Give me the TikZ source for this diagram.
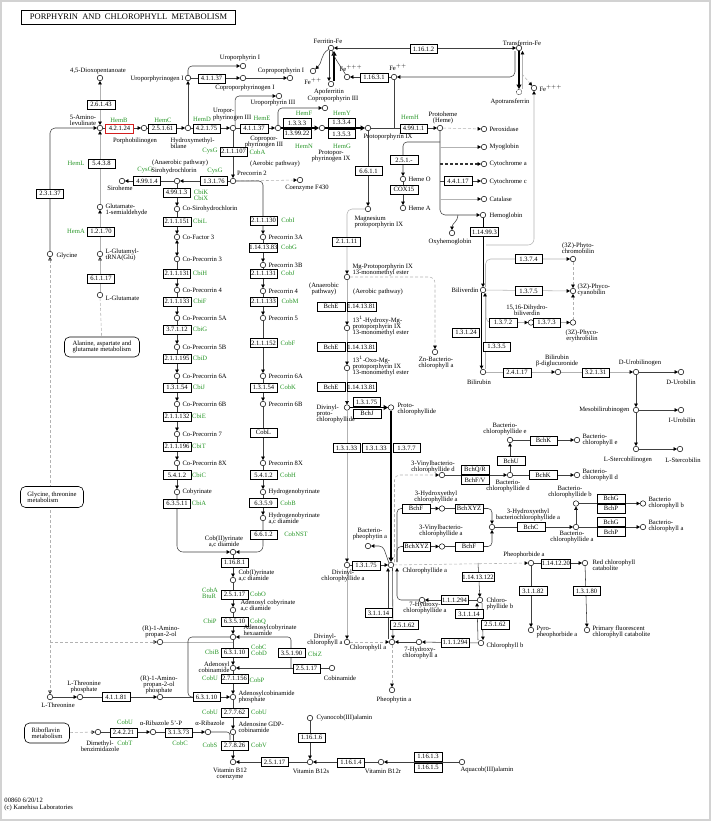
\documentclass[tikz,border=0pt]{standalone}
\usepackage{fontspec}
\setmainfont{Liberation Serif}
\usetikzlibrary{arrows.meta}
\definecolor{genegreen}{RGB}{40,150,40}
\definecolor{hitred}{RGB}{210,30,30}
\newcommand{\sm}{\fontsize{6.6}{6.3}\selectfont}
\pgfdeclarelayer{bg}
\pgfsetlayers{bg,main}
\begin{document}
\begin{tikzpicture}[x=1pt,y=-1pt,line cap=round,
  ec/.style={draw,fill=white,font=\sm,minimum width=27.5pt,minimum height=9pt,inner sep=0.4pt,line width=0.5pt},
  ecb/.style={ec,line width=0.9pt},
  ecr/.style={ec,draw=hitred,line width=0.9pt},
  cpd/.style={circle,draw,fill=white,inner sep=0pt,minimum size=5.5pt,line width=0.5pt},
  lbl/.style={font=\sm,inner sep=0.3pt,align=center},
  lw/.style={lbl,anchor=west,align=left},
  le/.style={lbl,anchor=east,align=right},
  gn/.style={font=\sm,text=genegreen,inner sep=0.3pt,align=left},
  mapbox/.style={draw,fill=white,rounded corners=5pt,font=\sm,align=left,inner sep=2.5pt,line width=0.6pt},
  ln/.style={draw=black!75,line width=0.55pt},
  lg/.style={draw=gray!60,line width=0.55pt},
  lb/.style={draw=black,line width=1.8pt},
  dsh/.style={dash pattern=on 3pt off 2pt},
  arr/.style={-{Triangle[length=3.4pt,width=3.6pt,color=black]}},
  rra/.style={{Triangle[length=3.4pt,width=3.6pt,color=black]}-},
  barr/.style={{Triangle[length=3.4pt,width=3.6pt,color=black]}-{Triangle[length=3.4pt,width=3.6pt,color=black]}},
  larr/.style={-{Triangle[length=4.5pt,width=5pt,color=black]}},
  oarr/.style={-{Triangle[open,length=3.4pt,width=3.6pt,color=black]}},
  obarr/.style={{Triangle[open,length=3.4pt,width=3.6pt,color=black]}-{Triangle[open,length=3.4pt,width=3.6pt,color=black]}},
]
\useasboundingbox (0,0) rectangle (712,822);
\draw[gray!35,line width=1.5pt] (1,1) rectangle (710,820);
\node[draw,line width=0.9pt,font=\fontsize{8.5}{9}\selectfont,minimum width=214pt,minimum height=14pt,inner sep=1pt] (title) at (128.5,17) {PORPHYRIN\ \ AND\ \ CHLOROPHYLL\ \ METABOLISM};

% ---- compounds: heme trunk
\node[cpd] (dioxo) at (100,78) {};
\node[cpd] (ala) at (100,128) {};
\node[cpd] (pbg) at (144,128) {};
\node[cpd] (hmb) at (188,128) {};
\node[cpd] (urogI) at (188,78) {};
\node[cpd] (uroI) at (243,66) {};
\node[cpd] (coprogI) at (243,78) {};
\node[cpd] (coproI) at (290,78) {};
\node[cpd] (urogIII) at (233,128) {};
\node[cpd] (uroIII) at (279,96) {};
\node[cpd] (coprogIII) at (278,128) {};
\node[cpd] (coproIII) at (325,108) {};
\node[cpd] (protogen) at (322,128) {};
\node[cpd] (protoIX) at (368,128) {};
\node[cpd] (heme) at (440,128) {};
% iron
\node[cpd] (ferritin) at (331,48) {};
\node[cpd] (apoferr) at (331,84) {};
\node[cpd] (fe2a) at (313,71) {};
\node[cpd] (fe3a) at (347,77) {};
\node[cpd] (fe2b) at (394,77) {};
\node[cpd] (transf) at (519,48) {};
\node[cpd,densely dotted] (apotransf) at (519,92) {};
\node[cpd] (fe3b) at (534,88) {};
% heme proteins
\node[cpd] (perox) at (484,129) {};
\node[cpd] (myo) at (484,147) {};
\node[cpd] (cyta) at (484,164) {};
\node[cpd] (cytc) at (484,181) {};
\node[cpd] (catal) at (484,199) {};
\node[cpd] (hemoglob) at (483,215) {};
\node[cpd] (oxyhb) at (452,233) {};
\node[cpd] (hemeO) at (403,179) {};
\node[cpd] (hemeA) at (403,208) {};
% left
\node[cpd] (glusa) at (100,207) {};
\node[cpd] (glutrna) at (100,254) {};
\node[cpd] (glu) at (100,295) {};
\node[cpd] (gly) at (50,254) {};
\node[cpd] (thr) at (50,697) {};
\node[cpd] (thrp) at (80,697) {};
\node[cpd] (amp) at (160,642) {};
\node[cpd] (ampp) at (160,697) {};
\node[cpd] (dmb) at (98,732) {};
\node[cpd] (arp) at (153,732) {};
\node[cpd] (ar) at (208,732) {};
% siroheme / precorrin
\node[cpd] (siroheme) at (122,181) {};
\node[cpd] (sirohc) at (177,181) {};
\node[cpd] (precorrin2) at (233,181) {};
\node[cpd] (f430) at (300,180) {};
\node[cpd] (cosirohc) at (177,209) {};
\node[cpd] (cof3) at (177,237) {};
\node[cpd] (cop3) at (177,259) {};
\node[cpd] (cop4) at (177,290) {};
\node[cpd] (cop5a) at (177,318) {};
\node[cpd] (cop5b) at (177,347) {};
\node[cpd] (cop6a) at (177,376) {};
\node[cpd] (cop6b) at (177,404) {};
\node[cpd] (cop7) at (177,434) {};
\node[cpd] (cop8) at (177,463) {};
\node[cpd] (cobyrinate) at (177,492) {};
\node[cpd] (p3a) at (263,237) {};
\node[cpd] (p3b) at (263,265) {};
\node[cpd] (p4) at (263,291) {};
\node[cpd] (p5) at (263,318) {};
\node[cpd] (p6a) at (263,376) {};
\node[cpd] (p6b) at (263,404) {};
\node[cpd] (p8) at (263,463) {};
\node[cpd] (hbyr) at (263,492) {};
\node[cpd] (hbyrd) at (263,518) {};
% B12
\node[cpd] (cob2) at (233,552) {};
\node[cpd] (cob1) at (233,580) {};
\node[cpd] (adocbd) at (233,610) {};
\node[cpd] (adocbh) at (233,637) {};
\node[cpd] (adocbi) at (233,668) {};
\node[cpd] (adocbip) at (233,697) {};
\node[cpd] (adogdp) at (233,732) {};
\node[cpd] (b12co) at (233,762) {};
\node[cpd] (cobinamide) at (332,668) {};
\node[cpd] (b12s) at (310,762) {};
\node[cpd] (b12r) at (381,762) {};
\node[cpd] (aquacob) at (462,762) {};
\node[cpd] (cyanocob) at (310,718) {};
% chlorophyll
\node[cpd] (mgproto) at (368,209) {};
\node[cpd] (mgprotome) at (347,277) {};
\node[cpd] (hydroxy) at (347,328) {};
\node[cpd] (oxo) at (347,368) {};
\node[cpd] (zbchl) at (435,352) {};
\node[cpd] (dvpchlide) at (347,407.5) {};
\node[cpd] (pchlide) at (391,407.5) {};
\node[cpd] (dvchlide) at (347,565) {};
\node[cpd] (chlidea) at (391,565) {};
\node[cpd] (bpheo) at (368,546) {};
\node[cpd] (vbchlided) at (442,475) {};
\node[cpd] (bchlided) at (510,475) {};
\node[cpd] (bchlidee) at (510,440) {};
\node[cpd] (bchle) at (577,440) {};
\node[cpd] (bchld) at (577,475) {};
\node[cpd] (hechlide) at (442,508.5) {};
\node[cpd] (vbchlidea) at (442,546.5) {};
\node[cpd] (hebchlide) at (492,527) {};
\node[cpd] (bchlidea) at (576,527) {};
\node[cpd] (bchlideb) at (576,503.5) {};
\node[cpd] (bchlb) at (643,503.5) {};
\node[cpd] (bchla) at (643,527) {};
\node[cpd] (pheide) at (531,563) {};
\node[cpd] (rcc) at (585,563) {};
\node[cpd] (pyro) at (531,630) {};
\node[cpd] (fcc) at (587,630) {};
\node[cpd] (chlideb) at (480,600) {};
\node[cpd] (hchlide) at (422,600) {};
\node[cpd] (chla) at (392,642) {};
\node[cpd] (chlb) at (481,643) {};
\node[cpd] (hchla) at (419,642) {};
\node[cpd] (dvchla) at (347,642) {};
\node[cpd] (pheo) at (392,690) {};
% bilins
\node[cpd] (biliverdin) at (483,290) {};
\node[cpd] (phytochromo) at (573,259) {};
\node[cpd] (phycocyano) at (573,291) {};
\node[cpd] (dhbv) at (531,322.5) {};
\node[cpd] (phycoery) at (573,322.5) {};
\node[cpd] (bilirubin) at (483,372) {};
\node[cpd] (bdg) at (558,372) {};
\node[cpd] (durobgen) at (636,372) {};
\node[cpd] (durobilin) at (681,372) {};
\node[cpd] (meso) at (636,410) {};
\node[cpd] (iurobilin) at (681,410) {};
\node[cpd] (lsterco) at (636,449) {};
\node[cpd] (lsbilin) at (680,449) {};

% ---- junction points
\coordinate (fe2bj) at (394,128);
\coordinate (tfj) at (522,74);
\coordinate (hbj) at (458,215);
\coordinate (hbj2) at (486,245);
\coordinate (hoj) at (440,142);
\coordinate (myoj) at (440,147);
\coordinate (cytaj) at (440,164);
\coordinate (cytcj) at (440,181);
\coordinate (catj) at (440,199);
\coordinate (thrj) at (50,642);
\coordinate (ampj) at (233,642);
\coordinate (arj) at (230,740);
\coordinate (cbzj) at (291,668);
\coordinate (caoj) at (478,563);

% ---- enzymes
\node[ec] (e26143) at (101,104.5) {2.6.1.43};
\node[ecr] (e42124) at (119.5,128.5) {4.2.1.24};
\node[ecb] (e25161) at (162.5,128.5) {2.5.1.61};
\node[ec] (e42175) at (206.5,128.5) {4.2.1.75};
\node[ec] (e41137a) at (254,128.5) {4.1.1.37};
\node[ec] (e41137b) at (211.5,78.5) {4.1.1.37};
\node[ec] (e1333) at (297,123) {1.3.3.3};
\node[ec] (e139922) at (297,133.5) {1.3.99.22};
\node[ec] (e1334) at (341.5,122.5) {1.3.3.4};
\node[ec] (e1353) at (341.5,134) {1.3.5.3};
\node[ec] (e49911) at (413.5,128.5) {4.99.1.1};
\node[ec] (e5438) at (101.5,163.5) {5.4.3.8};
\node[ecb] (e23137) at (50,193.5) {2.3.1.37};
\node[ecb] (e12170) at (101,231.5) {1.2.1.70};
\node[ecb] (e61117) at (101,278.5) {6.1.1.17};
\node[ec] (e211107) at (233.5,151.5) {2.1.1.107};
\node[ecb] (e49914) at (147,181) {4.99.1.4};
\node[ecb] (e13176) at (214,181) {1.3.1.76};
\node[ec] (e49913) at (176.5,192.5) {4.99.1.3};
\node[ec] (e211151) at (177,221.5) {2.1.1.151};
\node[ecb] (e211131a) at (177,273.5) {2.1.1.131};
\node[ec] (e211133a) at (177,301.5) {2.1.1.133};
\node[ec] (e37112) at (177,329.5) {3.7.1.12};
\node[ec] (e211195) at (177,358.5) {2.1.1.195};
\node[ec] (e13154a) at (177,387.5) {1.3.1.54};
\node[ec] (e211132) at (177,416.5) {2.1.1.132};
\node[ec] (e211196) at (177,446.5) {2.1.1.196};
\node[ec] (e5412a) at (177,475) {5.4.1.2};
\node[ecb] (e63511) at (177,503.5) {6.3.5.11};
\node[ec] (e211130) at (263.5,220.5) {2.1.1.130};
\node[ecb] (e1141383) at (263.5,247.5) {1.14.13.83};
\node[ec] (e211131b) at (263.5,273.5) {2.1.1.131};
\node[ec] (e211133b) at (263.5,301.5) {2.1.1.133};
\node[ec] (e211152) at (263.5,343) {2.1.1.152};
\node[ec] (e13154b) at (263.5,387.5) {1.3.1.54};
\node[ec] (ecobl) at (263.5,432.5) {CobL};
\node[ec] (e5412b) at (263.5,475) {5.4.1.2};
\node[ecb] (e6359) at (263.5,503) {6.3.5.9};
\node[ec] (e6612) at (263.5,534.5) {6.6.1.2};
\node[ec] (e11681) at (234.5,562.5) {1.16.8.1};
\node[ec] (e25117a) at (234.5,594.5) {2.5.1.17};
\node[ec] (e63510) at (234.5,621.5) {6.3.5.10};
\node[ec] (e63110a) at (234.5,652.5) {6.3.1.10};
\node[ec] (e271156) at (234.5,678.5) {2.7.1.156};
\node[ec] (e27762) at (234.5,712.5) {2.7.7.62};
\node[ec] (e27826) at (234.5,745.5) {2.7.8.26};
\node[ec] (e63110b) at (206.5,697) {6.3.1.10};
\node[ec] (e41181) at (116,697) {4.1.1.81};
\node[ec] (e24221) at (123.5,732.5) {2.4.2.21};
\node[ec] (e31373) at (178.5,732.5) {3.1.3.73};
\node[ec] (e35190) at (291.5,653) {3.5.1.90};
\node[ec] (e25117b) at (306.5,668.5) {2.5.1.17};
\node[ec] (e25117c) at (274.5,762) {2.5.1.17};
\node[ecb] (e11614) at (351,762.5) {1.16.1.4};
\node[ec] (e11613) at (428,756.5) {1.16.1.3};
\node[ec] (e11615) at (428,767.5) {1.16.1.5};
\node[ec] (e11616) at (311.5,737.5) {1.16.1.6};
\node[ec] (e2515) at (404,160) {2.5.1.-};
\node[ec] (ecox15) at (404,189.5) {COX15};
\node[ec] (e44117) at (458,181) {4.4.1.17};
\node[ecb] (e114993) at (484.5,232) {1.14.99.3};
\node[ec] (e11631) at (374,77.5) {1.16.3.1};
\node[ec] (e11612) at (423.5,49) {1.16.1.2};
\node[ec] (e6611) at (368.5,171) {6.6.1.1};
\node[ecb] (e21111) at (346.5,241.5) {2.1.1.11};
\node[ec] (ebche1) at (331,306.5) {BchE};
\node[ec] (e1141381a) at (361.5,306.5) {1.14.13.81};
\node[ec] (ebche2) at (331,347) {BchE};
\node[ec] (e1141381b) at (361.5,347) {1.14.13.81};
\node[ec] (ebche3) at (331,387) {BchE};
\node[ec] (e1141381c) at (361.5,387) {1.14.13.81};
\node[ec] (e13175a) at (366.5,402) {1.3.1.75};
\node[ec] (ebchj) at (367,413.5) {BchJ};
\node[ec] (e13133a) at (346.5,448) {1.3.1.33};
\node[ec] (e13133b) at (376,448) {1.3.1.33};
\node[ec] (e1377) at (406.5,448) {1.3.7.7};
\node[ec] (e13175b) at (366,565.5) {1.3.1.75};
\node[ec] (ebchf1) at (416,508.5) {BchF};
\node[ec] (ebchxyz1) at (469,508.5) {BchXYZ};
\node[ec] (ebchxyz2) at (416.5,546.5) {BchXYZ};
\node[ec] (ebchf2) at (469,546.5) {BchF};
\node[ec] (ebchqr) at (475,470) {BchQ/R};
\node[ec] (ebchfv) at (475,480) {BchF/V};
\node[ec] (ebchu) at (511,461) {BchU};
\node[ec] (ebchk1) at (543.5,440.5) {BchK};
\node[ec] (ebchk2) at (543,475) {BchK};
\node[ec] (ebchc) at (531,527) {BchC};
\node[ec] (ebchg1) at (611,498.5) {BchG};
\node[ec] (ebchp1) at (611,508.5) {BchP};
\node[ec] (ebchg2) at (611,522) {BchG};
\node[ec] (ebchp2) at (611,532) {BchP};
\node[ec] (e1141220) at (556,563.5) {1.14.12.20};
\node[ec] (e31182) at (533,591) {3.1.1.82};
\node[ec] (e13180) at (586.5,591) {1.3.1.80};
\node[ec] (e11413122) at (478,577) {1.14.13.122};
\node[ec] (e111294a) at (454.5,600) {1.1.1.294};
\node[ec] (e31114a) at (378.5,613) {3.1.1.14};
\node[ec] (e25162a) at (404,625) {2.5.1.62};
\node[ec] (e31114b) at (469,614) {3.1.1.14};
\node[ec] (e25162b) at (495,624.5) {2.5.1.62};
\node[ec] (e111294b) at (455,642.5) {1.1.1.294};
\node[ec] (e1374) at (528.5,259) {1.3.7.4};
\node[ec] (e1375) at (528.5,291) {1.3.7.5};
\node[ec] (e1372) at (503,322.5) {1.3.7.2};
\node[ec] (e1373) at (546.5,322.5) {1.3.7.3};
\node[ecb] (e13124) at (466,332.5) {1.3.1.24};
\node[ec] (e1335) at (496.5,346.5) {1.3.3.5};
\node[ec] (e24117) at (517,372.5) {2.4.1.17};
\node[ec] (e32131) at (595.5,372.5) {3.2.1.31};

% ---- gene names
\node[gn] (gHemB) at (119,120) {HemB};
\node[gn] (gHemC) at (163,120) {HemC};
\node[gn] (gHemD) at (202,119) {HemD};
\node[gn] (gHemE) at (262,118) {HemE};
\node[gn] (gHemF) at (304,113) {HemF};
\node[gn] (gHemN) at (304,146) {HemN};
\node[gn] (gHemY) at (342,113) {HemY};
\node[gn] (gHemG) at (342,146) {HemG};
\node[gn] (gHemH) at (410,117) {HemH};
\node[gn] (gHemL) at (76,163) {HemL};
\node[gn] (gHemA) at (76,231) {HemA};
\node[gn] (gCysGa) at (145,170) {CysG};
\node[gn] (gCysGb) at (215,171) {CysG};
\node[gn] (gCysGc) at (210,151) {CysG};
\node[gn,anchor=west] (gCobAa) at (249,152) {CobA};
\node[gn] (gCbiKX) at (201,195) {CbiK\\CbiX};
\node[gn] (gCbiL) at (200,221.5) {CbiL};
\node[gn] (gCbiH) at (200,273.5) {CbiH};
\node[gn] (gCbiF) at (200,301.5) {CbiF};
\node[gn] (gCbiG) at (200,329.5) {CbiG};
\node[gn] (gCbiD) at (200,358.5) {CbiD};
\node[gn] (gCbiJ) at (199,387.5) {CbiJ};
\node[gn] (gCbiE) at (199,416.5) {CbiE};
\node[gn] (gCbiT) at (199,446.5) {CbiT};
\node[gn] (gCbiC) at (199,475) {CbiC};
\node[gn] (gCbiA) at (199,503.5) {CbiA};
\node[gn] (gCobI) at (288,220.5) {CobI};
\node[gn] (gCobG) at (289,247.5) {CobG};
\node[gn] (gCobJ) at (288,273.5) {CobJ};
\node[gn] (gCobM) at (290,301.5) {CobM};
\node[gn] (gCobF) at (288,343) {CobF};
\node[gn] (gCobK) at (288,387.5) {CobK};
\node[gn] (gCobH) at (288,475) {CobH};
\node[gn] (gCobB) at (288,503) {CobB};
\node[gn] (gCobNST) at (296,534.5) {CobNST};
\node[gn] (gCobABtuR) at (210,593) {CobA\\BtuR};
\node[gn] (gCobO) at (258,594.5) {CobO};
\node[gn] (gCbiP) at (210,621.5) {CbiP};
\node[gn] (gCobQ) at (258,621.5) {CobQ};
\node[gn] (gCbiB) at (212,652.5) {CbiB};
\node[gn] (gCobCD) at (259,650) {CobC\\CobD};
\node[gn] (gCbiZ) at (315,654) {CbiZ};
\node[gn] (gCobUa) at (210,678.5) {CobU};
\node[gn] (gCobP) at (257,680) {CobP};
\node[gn] (gCobUb) at (210,712.5) {CobU};
\node[gn] (gCobUc) at (259,712.5) {CobU};
\node[gn] (gCobS) at (210,745.5) {CobS};
\node[gn] (gCobV) at (259,745.5) {CobV};
\node[gn] (gCobUd) at (125,722) {CobU};
\node[gn] (gCobT) at (125,743) {CobT};
\node[gn] (gCobC) at (180,743) {CobC};

% ---- compound names
\node[lbl] (tdioxo) at (98,71) {4,5-Dioxopentanoate};
\node[lbl] (tala) at (83,120) {5-Amino-\\levulinate};
\node[lbl] (tpbg) at (135,141) {Porphobilinogen};
\node[lw,anchor=north west] (thmb) at (170,137) {Hydroxymethyl-\\bilane};
\node[le] (turogI) at (184,79) {Uroporphyrinogen I};
\node[lbl] (turoI) at (240,58) {Uroporphyrin I};
\node[lbl] (tcoprogI) at (245,88) {Coproporphyrinogen I};
\node[lbl] (tcoproI) at (281,71) {Coproporphyrin I};
\node[lbl] (tfe2a) at (313,81) {Fe$^{++}$};
\node[lbl] (tferr) at (328,41) {Ferritin-Fe};
\node[lbl] (tapof) at (329,92) {Apoferritin};
\node[lbl] (tcoproIII) at (333,99) {Coproporphyrin III};
\node[lbl] (turoIII) at (273,103) {Uroporphyrin III};
\node[lbl] (tfe3a) at (351,68) {Fe$^{+++}$};
\node[lbl] (tfe2b) at (398,67) {Fe$^{++}$};
\node[lbl] (ttransf) at (522,43) {Transferrin-Fe};
\node[lbl] (tapot) at (510,102) {Apotransferrin};
\node[lw] (tfe3b) at (539,88) {Fe$^{+++}$};
\node[lw] (turogIII) at (212.5,114.5) {Uropor-\\phyrinogen III};
\node[lbl] (tcoprogIII) at (264,142) {Copropor-\\phyrinogen III};
\node[lbl] (tprotogen) at (331,156) {Protopor-\\phyrinogen IX};
\node[lbl] (tprotoIX) at (388,137) {Protoporphyrin IX};
\node[lbl] (theme) at (443,118) {Protoheme\\(Heme)};
\node[lw] (tperox) at (489,129) {Peroxidase};
\node[lw] (tmyo) at (489,147) {Myoglobin};
\node[lw] (tcyta) at (489,164) {Cytochrome a};
\node[lw] (tcytc) at (489,182) {Cytochrome c};
\node[lw] (tcatal) at (489,199) {Catalase};
\node[lw] (themog) at (489,216) {Hemoglobin};
\node[lbl] (toxyhb) at (450,242) {Oxyhemoglobin};
\node[lw] (themeO) at (408,179) {Heme O};
\node[lw] (themeA) at (408,208) {Heme A};
\node[lbl] (tsiroheme) at (120,188) {Siroheme};
\node[lbl] (tsirohc) at (174,171) {Sirohydrochlorin};
\node[lbl] (tprec2) at (252,173) {Precorrin 2};
\node[lbl] (tf430) at (307,188) {Coenzyme F430};
\node[lw] (tcosirohc) at (182,209) {Co-Sirohydrochlorin};
\node[lw] (tcof3) at (182,237) {Co-Factor 3};
\node[lw] (tcop3) at (182,259) {Co-Precorrin 3};
\node[lw] (tcop4) at (182,290) {Co-Precorrin 4};
\node[lw] (tcop5a) at (182,318) {Co-Precorrin 5A};
\node[lw] (tcop5b) at (182,347) {Co-Precorrin 5B};
\node[lw] (tcop6a) at (182,376) {Co-Precorrin 6A};
\node[lw] (tcop6b) at (182,404) {Co-Precorrin 6B};
\node[lw] (tcop7) at (182,434) {Co-Precorrin 7};
\node[lw] (tcop8) at (182,463) {Co-Precorrin 8X};
\node[lw] (tcobyr) at (182,492) {Cobyrinate};
\node[lw] (tp3a) at (268,237) {Precorrin 3A};
\node[lw] (tp3b) at (268,265) {Precorrin 3B};
\node[lw] (tp4) at (268,291) {Precorrin 4};
\node[lw] (tp5) at (268,318) {Precorrin 5};
\node[lw] (tp6a) at (268,376) {Precorrin 6A};
\node[lw] (tp6b) at (268,404) {Precorrin 6B};
\node[lw] (tp8) at (268,463) {Precorrin 8X};
\node[lw] (thbyr) at (268,492) {Hydrogenobyrinate};
\node[lw] (thbyrd) at (268,519) {Hydrogenobyrinate\\a,c diamide};
\node[lbl] (tcob2) at (224,542) {Cob(II)yrinate\\a,c diamide};
\node[lw] (tcob1) at (238,576) {Cob(I)yrinate\\a,c diamide};
\node[lw] (tadocbd) at (240,606) {Adenosyl cobyrinate\\a,c diamide};
\node[lw] (tadocbh) at (243,630) {Adenosylcobyrinate\\hexaamide};
\node[le] (tadocbi) at (230,667) {Adenosyl\\cobinamide};
\node[lbl] (tcobinamide) at (340,678) {Cobinamide};
\node[lw] (tadocbip) at (238,697) {Adenosylcobinamide\\phosphate};
\node[lw] (tadogdp) at (238,727) {Adenosine GDP-\\cobinamide};
\node[lbl] (tb12co) at (230,774) {Vitamin B12\\coenzyme};
\node[lbl] (tb12s) at (311,771) {Vitamin B12s};
\node[lbl] (tb12r) at (383,771) {Vitamin B12r};
\node[lbl] (taquacob) at (487,770) {Aquacob(III)alamin};
\node[lw] (tcyanocob) at (316,718) {Cyanocob(III)alamin};
\node[lbl] (tamp) at (161,632) {(R)-1-Amino-\\propan-2-ol};
\node[lbl] (tthrp) at (84,687) {L-Threonine\\phosphate};
\node[lbl] (tampp) at (159,685) {(R)-1-Amino-\\propan-2-ol\\phosphate};
\node[lbl] (tthr) at (58,705) {L-Threonine};
\node[lw] (tgly) at (56,256) {Glycine};
\node[lw] (tglutrna) at (105,255) {L-Glutamyl-\\tRNA(Glu)};
\node[lw] (tglu) at (105,298) {L-Glutamate};
\node[lw] (tglusa) at (105,210) {Glutamate-\\1-semialdehyde};
\node[lbl] (tdmb) at (100,746) {Dimethyl-\\benzimidazole};
\node[lbl] (tarp) at (161,723) {α-Ribazole 5'-P};
\node[lbl] (tar) at (210,723) {α-Ribazole};
\node[lw] (tmgproto) at (354,222) {Magnesium\\protoporphyrin IX};
\node[lw] (tmgprotome) at (352,270) {Mg-Protoporphyrin IX\\13-monomethyl ester};
\node[lw] (thydroxy) at (352,326) {13$^1$-Hydroxy-Mg-\\protoporphyrin IX\\13-monomethyl ester};
\node[lw] (toxo) at (352,366) {13$^1$-Oxo-Mg-\\protoporphyrin IX\\13-monomethyl ester};
\node[lbl] (tzbchl) at (436,363) {Zn-Bacterio-\\chlorophyll a};
\node[lw] (tdvpchlide) at (316,414) {Divinyl-\\proto-\\chlorophyllide};
\node[lw] (tpchlide) at (397,409) {Proto-\\chlorophyllide};
\node[lbl] (tdvchlide) at (343,576) {Divinyl-\\chlorophyllide a};
\node[lw] (tchlidea) at (402,571) {Chlorophyllide a};
\node[lbl] (tbpheo) at (370,534) {Bacterio-\\pheophytin a};
\node[lbl] (tvbchlided) at (433,467) {3-Vinylbacterio-\\chlorophyllide d};
\node[lbl] (thechlide) at (436,497) {3-Hydroxyethyl\\chlorophyllide a};
\node[lbl] (tvbchlidea) at (441,531) {3-Vinylbacterio-\\chlorophyllide a};
\node[lbl] (thebchlide) at (528,515) {3-Hydroxyethyl\\bacteriochlorophyllide a};
\node[lbl] (tbchlidee) at (505,429) {Bacterio-\\chlorophyllide e};
\node[lw] (tbchle) at (582,440) {Bacterio-\\chlorophyll e};
\node[lbl] (tbchlided) at (508,486) {Bacterio-\\chlorophyllide d};
\node[lw] (tbchld) at (582,475) {Bacterio-\\chlorophyll d};
\node[lbl] (tbchlideb) at (570,492) {Bacterio-\\chlorophyllide b};
\node[lbl] (tbchlidea) at (572,537) {Bacterio-\\chlorophyllide a};
\node[lw] (tbchlb) at (648,503) {Bacterio\\chlorophyll b};
\node[lw] (tbchla) at (648,526) {Bacterio-\\chlorophyll a};
\node[lbl] (tpheide) at (524,555) {Pheophorbide a};
\node[lw] (trcc) at (592,565) {Red chlorophyll\\catabolite};
\node[lw] (tpyro) at (536,632) {Pyro-\\pheophorbide a};
\node[lw] (tfcc) at (592,632) {Primary fluorescent\\chlorophyll catabolite};
\node[lw] (tchlideb) at (486,604) {Chloro-\\phyllide b};
\node[lbl] (thchlide) at (425,608) {7-Hydroxy-\\chlorophyllide a};
\node[lbl] (tchla) at (368,648) {Chlorophyll a};
\node[lbl] (thchla) at (420,653) {7-Hydroxy-\\chlorophyll a};
\node[lw] (tchlb) at (486,646) {Chlorophyll b};
\node[lbl] (tdvchla) at (325,640) {Divinyl-\\chlorophyll a};
\node[lbl] (tpheo) at (394,700) {Pheophytin a};
\node[le] (tbiliverdin) at (479,290) {Biliverdin};
\node[lbl] (tphytochromo) at (578,248) {(3Z)-Phyto-\\chromobilin};
\node[lw] (tphycocyano) at (577,290) {(3Z)-Phyco-\\cyanobilin};
\node[lbl] (tdhbv) at (527,310) {15,16-Dihydro-\\biliverdin};
\node[lbl] (tphycoery) at (582,336) {(3Z)-Phyco-\\erythrobilin};
\node[lbl] (tbilirubin) at (479,382) {Bilirubin};
\node[lbl] (tbdg) at (557,361) {Bilirubin\\β-diglucuronide};
\node[lbl] (tdurobgen) at (640,363) {D-Urobilinogen};
\node[lbl] (tdurobilin) at (681,382) {D-Urobilin};
\node[le] (tmeso) at (630,410) {Mesobilirubinogen};
\node[lbl] (tiurobilin) at (682,420) {I-Urobilin};
\node[lbl] (tlsterco) at (628,460) {L-Stercobilinogen};
\node[lbl] (tlsbilin) at (683,460) {L-Stercobilin};
% notes and maps
\node[lbl] (nanae1) at (180,163) {(Anaerobic pathway)};
\node[lbl] (naer1) at (275,164) {(Aerobic pathway)};
\node[lbl] (nanae2) at (324,289) {(Anaerobic\\pathway)};
\node[lbl] (naer2) at (378,292) {(Aerobic pathway)};
\node[mapbox,minimum width=75pt,minimum height=20pt] (alamap) at (102,347) {Alanine, aspartate and\\glutamate metabolism};
\node[mapbox,minimum width=63pt,minimum height=21pt] (glymap) at (52,497) {Glycine, threonine\\metabolism};
\node[mapbox,minimum width=45pt,minimum height=20pt] (ribomap) at (47,733) {Riboflavin\\metabolism};
\node[lw] (fdate) at (4,800) {00860 6/20/12};
\node[lw] (fcopy) at (4,808) {(c) Kanehisa Laboratories};

% ---- connectors
\begin{pgfonlayer}{bg}
\draw[ln,arr] (ala) -- (pbg);
\draw[ln,arr] (pbg) -- (hmb);
\draw[ln,arr] (hmb) -- (urogIII);
\draw[ln,arr] (urogIII) -- (coprogIII);
\draw[lb,larr] (coprogIII) -- (protogen);
\draw[lb,larr] (protogen) -- (protoIX);
\draw[ln,arr] (protoIX) -- (heme);
\draw[lg,barr] (dioxo) -- (ala);
\draw[lg,arr] (glusa) -- (ala);
\draw[lg,arr] (glutrna) -- (glusa);
\draw[lg,oarr] (glu) -- (glutrna);
\draw[lg,dsh] (glu) -- (alamap);
\draw[ln,arr,rounded corners=5pt] (gly) |- (ala);
\draw[lg,dsh,obarr] (gly) -- (thr);
\draw[ln,arr] (hmb) -- (urogI);
\draw[ln,arr,rounded corners=4pt] (urogI) |- (uroI);
\draw[ln,arr] (urogI) -- (coprogI);
\draw[ln,arr] (coprogI) -- (coproI);
\draw[ln,arr,rounded corners=4pt] (urogIII.north east) |- (uroIII);
\draw[ln,arr,rounded corners=4pt] (coprogIII) |- (coproIII);
% iron
\draw[ln,arr] ([xshift=-2pt]ferritin.south) -- ([xshift=-2pt]apoferr.north);
\draw[draw=black,line width=1.2pt,larr] ([xshift=3pt]apoferr.north) -- ([xshift=3pt]ferritin.south);
\draw[ln,arr] (ferritin) to[out=210,in=40] (fe2a);
\draw[ln] (fe3a) to[out=120,in=-70] (ferritin);
\draw[ln,arr] (fe2b) -- (fe3a);
\draw[ln] (fe2b) -- (fe2bj);
\draw[ln,barr] (ferritin) -- (transf);
\draw[ln,arr,rounded corners=5pt] ([xshift=-4pt]transf.south) |- (fe2b);
\draw[draw=black,line width=1.2pt,larr] (transf) -- (apotransf);
\draw[lg,arr] ([xshift=3.5pt]apotransf.north) -- ([xshift=3.5pt]transf.south);
\draw[lg,dsh,arr] (tfj) -- (fe3b);
\draw[lg,rra,rounded corners=6pt] (fe3b) |- (hbj2);
% heme branches
\draw[lg,dsh,arr] (heme) -- (perox);
\draw[ln,arr,rounded corners=5pt] (heme) |- (hemoglob);
\draw[lg,arr] (myoj) -- (myo);
\draw[draw=black!80,line width=1.3pt,dsh,arr] (cytaj) -- (cyta);
\draw[ln,arr] (cytcj) -- (cytc);
\draw[lg,arr] (catj) -- (catal);
\draw[ln,arr] (hbj) to[out=-90,in=90] (oxyhb);
\draw[ln,arr,rounded corners=4pt] (hoj) -| (hemeO);
\draw[ln,arr] (hemeO) -- (hemeA);
% siroheme and cobalamin (anaerobic)
\draw[ln,arr] (urogIII) -- (precorrin2);
\draw[ln,arr] (precorrin2) -- (sirohc);
\draw[ln,arr] (sirohc) -- (siroheme);
\draw[ln,arr] (sirohc) -- (cosirohc);
\draw[lg,dsh,arr] (precorrin2) -- (f430);
\draw[ln,arr] (cosirohc) -- (cof3);
\draw[ln,barr] (cof3) -- (cop3);
\draw[ln,arr] (cop3) -- (cop4);
\draw[ln,arr] (cop4) -- (cop5a);
\draw[ln,arr] (cop5a) -- (cop5b);
\draw[ln,arr] (cop5b) -- (cop6a);
\draw[ln,arr] (cop6a) -- (cop6b);
\draw[ln,arr] (cop6b) -- (cop7);
\draw[ln,arr] (cop7) -- (cop8);
\draw[ln,arr] (cop8) -- (cobyrinate);
\draw[ln,arr,rounded corners=6pt] (cobyrinate) |- (cob2);
% aerobic
\draw[ln,arr,rounded corners=4pt] (precorrin2) -| (p3a);
\draw[ln,arr] (p3a) -- (p3b);
\draw[ln,arr] (p3b) -- (p4);
\draw[ln,arr] (p4) -- (p5);
\draw[ln,arr] (p5) -- (p6a);
\draw[ln,arr] (p6a) -- (p6b);
\draw[ln,arr] (p6b) -- (p8);
\draw[ln,arr] (p8) -- (hbyr);
\draw[ln,arr] (hbyr) -- (hbyrd);
\draw[ln,arr,rounded corners=6pt] (hbyrd) |- (cob2);
% B12 column
\draw[ln,arr] (cob2) -- (cob1);
\draw[ln,arr] (cob1) -- (adocbd);
\draw[ln,arr] (adocbd) -- (adocbh);
\draw[ln,arr] (adocbh) -- (adocbi);
\draw[ln,arr] (adocbi) -- (adocbip);
\draw[ln,arr] (adocbip) -- (adogdp);
\draw[ln,arr] (adogdp) -- (b12co);
\draw[ln,arr] (cobinamide) -- (adocbi);
\draw[ln,arr,rounded corners=3pt] (cbzj) |- (adocbh);
\draw[ln,arr] (b12s) -- (b12co);
\draw[ln,arr] (b12r) -- (b12s);
\draw[ln,arr] (aquacob) -- (b12r);
\draw[ln,arr] (cyanocob) -- (b12s);
\draw[lg,dsh,oarr] (thrj) -- (amp);
\draw[lg] (amp) -- (ampj);
\draw[ln,arr] (thr) -- (thrp);
\draw[ln,arr] (thrp) -- (ampp);
\draw[ln,arr] (ampp) -- (adocbip);
\draw[ln,rounded corners=4pt] (adocbh.west) -- (188,637) -- (188,697) -- (e63110b.west);
\draw[lg,dsh,oarr] (ribomap) -- (dmb);
\draw[ln,arr] (dmb) -- (arp);
\draw[ln,arr] (arp) -- (ar);
\draw[ln,rounded corners=3pt] (ar) -| (arj);
% chlorophyll
\draw[ln,arr] (protoIX) -- (mgproto);
\draw[lg,arr,rounded corners=5pt] (mgproto) -| (mgprotome);
\draw[lg,arr] (mgprotome) -- (hydroxy);
\draw[lg,arr] (hydroxy) -- (oxo);
\draw[lg,arr] (oxo) -- (dvpchlide);
\draw[lg,dsh,arr,rounded corners=6pt] (mgprotome) -| (zbchl);
\draw[lb,larr] (dvpchlide) -- (pchlide);
\draw[lg,arr] (dvpchlide) -- (dvchlide);
\draw[lb,larr] (pchlide) -- (chlidea);
\draw[ln,arr] (dvchlide) -- (chlidea);
\draw[lg,arr] (dvchlide) -- (dvchla);
\draw[lg,dsh,arr] (dvchla) -- (chla);
\draw[lg,dsh,arr] (chla) -- (pheo);
\draw[ln,rra,rounded corners=4pt] (bpheo) -- (383,546) -- (chlidea.north west);
\draw[lg,dsh,arr,rounded corners=5pt] ([xshift=3.5pt]chlidea.north) |- (vbchlided);
\draw[ln,arr,rounded corners=4pt] ([xshift=6pt]chlidea.north) |- (hechlide);
\draw[ln,arr,rounded corners=4pt] ([xshift=6pt]chlidea.north) |- (vbchlidea);
\draw[ln,arr] (vbchlided) -- (bchlided);
\draw[ln,arr] (bchlided) -- (bchlidee);
\draw[ln,arr] (bchlidee) -- (bchle);
\draw[ln,arr] (bchlided) -- (bchld);
\draw[ln,arr,rounded corners=4pt] (hechlide) -| (hebchlide);
\draw[ln,arr,rounded corners=4pt] (vbchlidea) -| (hebchlide);
\draw[ln,arr] (hebchlide) -- (bchlidea);
\draw[ln,arr] (bchlidea) -- (bchlideb);
\draw[ln,arr] (bchlideb) -- (bchlb);
\draw[ln,arr] (bchlidea) -- (bchla);
\draw[lg,dsh,arr] (chlidea) -- (pheide);
\draw[ln,arr] (pheide) -- (rcc);
\draw[ln,arr] (pheide) -- (pyro);
\draw[ln,arr] (rcc) -- (fcc);
\draw[ln,arr] (caoj) -- (chlideb);
\draw[ln,arr] (chlideb) -- (hchlide);
\draw[ln,arr,rounded corners=4pt] (hchlide) -| ([xshift=6pt]chlidea.south);
\draw[ln,arr] ([xshift=-4pt]chla.north) -- ([xshift=-3pt]chlidea.south);
\draw[ln,arr] ([xshift=1.5pt]chlidea.south) -- ([xshift=1pt]chla.north);
\draw[ln,arr] ([xshift=2pt]chlideb.south) -- ([xshift=2pt]chlb.north);
\draw[ln,arr] ([xshift=-3pt]chlb.north) -- ([xshift=-3pt]chlideb.south);
\draw[ln,arr] (chlb) -- (hchla);
\draw[ln,arr] (hchla) -- (chla);
% bilins
\draw[draw=black,line width=0.8pt,arr] (hemoglob) -- (biliverdin);
\draw[lg,arr,rounded corners=5pt] ([xshift=2.5pt]biliverdin.north) |- (phytochromo);
\draw[lg,arr] (biliverdin) -- (phycocyano);
\draw[lg,arr,rounded corners=5pt] ([xshift=3pt]biliverdin.south) |- (dhbv);
\draw[lg,arr] (dhbv) -- (phycoery);
\draw[lg,dsh,arr] (phytochromo) -- (phycocyano);
\draw[lg,dsh,arr] (phycoery) -- (phycocyano);
\draw[draw=black,line width=0.8pt,arr] ([xshift=-1.5pt]biliverdin.south) -- ([xshift=-1.5pt]bilirubin.north);
\draw[lg,arr] ([xshift=2pt]bilirubin.north) -- ([xshift=2pt]biliverdin.south);
\draw[lg,arr] (bilirubin) -- (bdg);
\draw[lg,arr] (bdg) -- (durobgen);
\draw[ln,arr] (durobgen) -- (durobilin);
\draw[ln,arr] (durobgen) -- (meso);
\draw[ln,arr] (meso) -- (iurobilin);
\draw[ln,arr] (meso) -- (lsterco);
\draw[ln,arr] (lsterco) -- (lsbilin);
\end{pgfonlayer}
\end{tikzpicture}
\end{document}
